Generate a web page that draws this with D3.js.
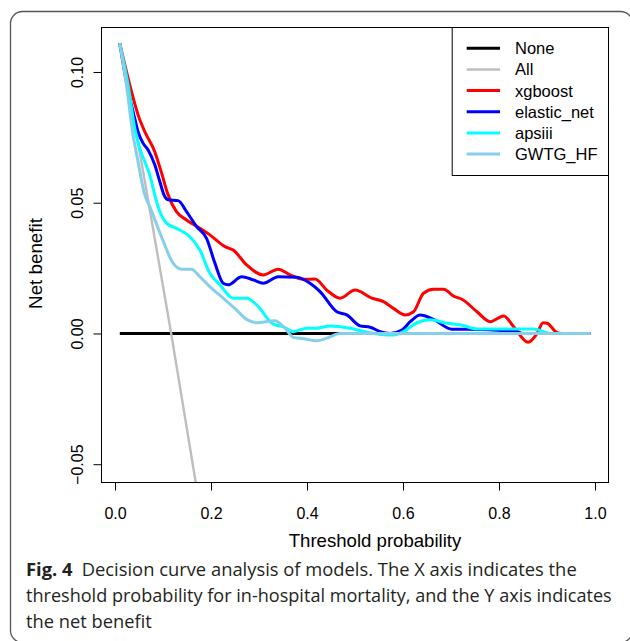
<!DOCTYPE html>
<html><head><meta charset="utf-8">
<script src="https://cdn.jsdelivr.net/npm/d3@7"></script>
<style>
html,body{margin:0;padding:0;background:#fff;}
svg{display:block;}
</style></head>
<body>
<script>
// ---- data ----
const xTicks = [0.0, 0.2, 0.4, 0.6, 0.8, 1.0];
const yTicks = [-0.05, 0.00, 0.05, 0.10];
const seriesNames = ["None", "All", "xgboost", "elastic_net", "apsiii", "GWTG_HF"];
const seriesColors = ["#000000", "#BEBEBE", "#FF0000", "#0000FF", "#00FFFF", "#87CEEB"];

const none = [[0.01,0],[0.99,0]];
const all = [[0.01,0.111],[0.06,0.0605],[0.117,0],[0.17,-0.059]];
const xgboost = [[0.0098,0.111],[0.0307,0.0951],[0.048,0.0836],[0.062,0.0772],[0.0828,0.0695],[0.0968,0.0615],[0.1106,0.053],[0.128,0.0466],[0.149,0.0434],[0.1768,0.0402],[0.1976,0.0377],[0.2289,0.0332],[0.2462,0.0319],[0.2742,0.0262],[0.3088,0.0224],[0.3401,0.0246],[0.3646,0.0224],[0.3923,0.0207],[0.4167,0.0208],[0.4412,0.0166],[0.4689,0.0135],[0.5002,0.0166],[0.5351,0.0135],[0.5593,0.0122],[0.5801,0.0096],[0.6046,0.0071],[0.6219,0.0083],[0.6427,0.0154],[0.6636,0.0169],[0.6845,0.0169],[0.7053,0.0143],[0.7229,0.0131],[0.7542,0.0083],[0.7819,0.0045],[0.8097,0.0067],[0.8306,0.0026],[0.8606,-0.0034],[0.8794,0.0],[0.8919,0.0041],[0.9002,0.0039],[0.9211,0.0003],[0.93,0],[0.99,0]];
const elasticNet = [[0.0098,0.111],[0.025,0.095],[0.041,0.0823],[0.048,0.0772],[0.0584,0.0728],[0.0689,0.0702],[0.0828,0.0645],[0.0933,0.0581],[0.102,0.053],[0.1106,0.0511],[0.1315,0.0508],[0.149,0.0466],[0.1699,0.0409],[0.1907,0.0364],[0.2081,0.0269],[0.2254,0.0192],[0.2358,0.0186],[0.2638,0.0217],[0.288,0.0205],[0.3088,0.0192],[0.3401,0.0217],[0.3785,0.0215],[0.4063,0.0192],[0.4272,0.016],[0.462,0.0083],[0.4829,0.0071],[0.5106,0.0029],[0.5315,0.0024],[0.5524,0.0007],[0.5733,0],[0.5977,0.0013],[0.615,0.0045],[0.6359,0.0071],[0.6636,0.0054],[0.702,0.0016],[0.7333,0.0016],[0.8377,0.0007],[0.849,0],[0.99,0]];
const apsiii = [[0.0098,0.111],[0.0272,0.0951],[0.0411,0.0785],[0.0515,0.0708],[0.062,0.0657],[0.0724,0.0606],[0.0828,0.053],[0.0897,0.0485],[0.1073,0.0422],[0.1281,0.0402],[0.1559,0.037],[0.1768,0.0319],[0.1976,0.023],[0.2185,0.0186],[0.2462,0.0135],[0.2742,0.0135],[0.2951,0.0109],[0.3297,0.0036],[0.3506,0.0026],[0.3715,0.0007],[0.3994,0.002],[0.4203,0.002],[0.448,0.0029],[0.4898,0.002],[0.5246,0.0005],[0.5801,-0.0006],[0.601,0.0007],[0.629,0.0041],[0.6567,0.0052],[0.6916,0.0039],[0.7193,0.0033],[0.7542,0.0017],[0.8723,0.0017],[0.907,0],[0.99,0]];
const gwtgHf = [[0.0098,0.111],[0.0237,0.0951],[0.0376,0.0759],[0.048,0.0657],[0.062,0.053],[0.0724,0.0485],[0.0968,0.037],[0.121,0.0269],[0.1386,0.0246],[0.1594,0.0246],[0.1768,0.0217],[0.1976,0.0179],[0.2254,0.0135],[0.2498,0.0096],[0.2742,0.0054],[0.2951,0.0041],[0.3333,0.0049],[0.3541,0.002],[0.3715,-0.0015],[0.3923,-0.002],[0.4203,-0.0028],[0.4412,-0.0018],[0.4689,0],[0.99,0]];
const seriesData = [none, all, xgboost, elasticNet, apsiii, gwtgHf];

const xLabel = "Threshold probability";
const yLabel = "Net benefit";
const captionBold = "Fig. 4";
const captionLines = [
  "Decision curve analysis of models. The X axis indicates the",
  "threshold probability for in-hospital mortality, and the Y axis indicates",
  "the net benefit"
];

// ---- drawing ----
const W = 630, H = 641;
const svg = d3.select("body").append("svg").attr("width", W).attr("height", H);
const font = "'Liberation Sans', Arial, Helvetica, sans-serif";

// outer rounded frame
svg.append("rect").attr("x", 10.5).attr("y", 11.5).attr("width", 622).attr("height", 631)
  .attr("rx", 12).attr("fill", "none").attr("stroke", "#555").attr("stroke-width", 1.3);

const L = 101, R = 609, T = 27, B = 482;
const x = d3.scaleLinear().domain([-0.0292, 1.0292]).range([L, R]);
const y = d3.scaleLinear().domain([-0.0568, 0.1172]).range([B, T]);

svg.append("clipPath").attr("id", "plotclip").append("rect")
  .attr("x", L).attr("y", T).attr("width", R - L).attr("height", B - T);

const line = d3.line().x(d => x(d[0])).y(d => y(d[1])).curve(d3.curveMonotoneX);
const lineStraight = d3.line().x(d => x(d[0])).y(d => y(d[1])).curve(d3.curveLinear);

const gLines = svg.append("g").attr("clip-path", "url(#plotclip)");
seriesData.forEach((data, i) => {
  gLines.append("path").datum(data)
    .attr("d", i < 2 ? lineStraight : line)
    .attr("fill", "none")
    .attr("stroke", seriesColors[i])
    .attr("stroke-width", i === 1 ? 2.4 : 3)
    .attr("stroke-linejoin", "round").attr("stroke-linecap", "butt");
});

// box
svg.append("rect").attr("x", L + 0.5).attr("y", T + 0.5).attr("width", R - L - 1).attr("height", B - T)
  .attr("fill", "none").attr("stroke", "#000").attr("stroke-width", 1);

// x axis
const xAxis = d3.axisBottom(x).tickValues(xTicks).tickSize(8).tickPadding(17)
  .tickFormat(d3.format(".1f"));
const gx = svg.append("g").attr("transform", `translate(0,${B + 0.5})`).call(xAxis);
gx.select(".domain").remove();
gx.selectAll("line").attr("stroke", "#000");
gx.selectAll("text").attr("font-family", font).attr("font-size", 16).attr("fill", "#000");

// y axis
const yAxis = d3.axisLeft(y).tickValues(yTicks).tickSize(8).tickPadding(0)
  .tickFormat(d => d3.format(".2f")(d).replace("-", "\u2212"));
const gy = svg.append("g").attr("transform", `translate(${L + 0.5},0)`).call(yAxis);
gy.select(".domain").remove();
gy.selectAll("line").attr("stroke", "#000");
gy.selectAll("text")
  .attr("font-family", font).attr("font-size", 16).attr("fill", "#000")
  .attr("x", null).attr("dy", null)
  .attr("text-anchor", "middle").attr("dominant-baseline", "central")
  .attr("transform", "translate(-24,0) rotate(-90)");

// axis titles
svg.append("text").attr("x", 375).attr("y", 547).attr("text-anchor", "middle")
  .attr("font-family", font).attr("font-size", 18.6).attr("fill", "#000").text(xLabel);
svg.append("text").attr("transform", "translate(35,263.5) rotate(-90)")
  .attr("text-anchor", "middle").attr("dominant-baseline", "central")
  .attr("font-family", font).attr("font-size", 18.8).attr("fill", "#000").text(yLabel);

// legend
const lgX0 = 451.7, lgY0 = 27, lgW = R - 451.7, lgH = 148;
svg.append("rect").attr("x", lgX0 + 0.5).attr("y", lgY0 + 0.5).attr("width", lgW - 1).attr("height", lgH)
  .attr("fill", "#fff").attr("stroke", "#000").attr("stroke-width", 1);
seriesNames.forEach((name, i) => {
  const cy = 48.3 + i * 21.15;
  svg.append("line").attr("x1", 466.7).attr("x2", 500).attr("y1", cy).attr("y2", cy)
    .attr("stroke", seriesColors[i]).attr("stroke-width", i === 1 ? 2.4 : 3);
  svg.append("text").attr("x", 515).attr("y", cy).attr("dominant-baseline", "central")
    .attr("font-family", font).attr("font-size", 16.5).attr("fill", "#000").text(name);
});

// caption
const capFont = "'Open Sans', 'Noto Sans', sans-serif";
const capBase = [576, 601.7, 627.5];
const capEnd = [576.7, 611.7, 151.7];
captionLines.forEach((txt, i) => {
  const t = svg.append("text").attr("x", 26).attr("y", capBase[i])
    .attr("font-family", capFont).attr("font-size", 17.5).attr("fill", "#231f20");
  if (i === 0) {
    t.append("tspan").attr("font-weight", "bold").text(captionBold);
    t.append("tspan").text("\u2002" + txt);
  } else {
    t.text(txt);
  }
  t.attr("textLength", capEnd[i] - 26).attr("lengthAdjust", "spacingAndGlyphs");
});
</script>
</body></html>
